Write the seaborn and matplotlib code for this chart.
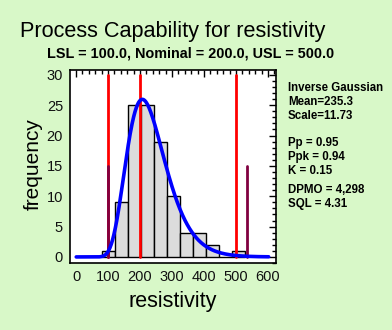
import numpy as np
import pandas as pd
import matplotlib
matplotlib.use("Agg")
import matplotlib.pyplot as plt
import seaborn as sns
from matplotlib.ticker import MultipleLocator

# ---- data ----
bin_start = 81.25
bin_width = 40.625
counts = [1, 9, 25, 25, 19, 10, 4, 4, 2, 0, 1]
spec_names = ["LSL", "Nominal", "USL"]
spec_values = [100.0, 200.0, 500.0]
sigma_limits = [101.0, 533.0]
sigma_height = 15
ig_mean = 235.3
ig_scale = 11.73
n_obs = sum(counts)
stats_lines = ["Inverse Gaussian", "Mean=235.3", "Scale=11.73",
               "Pp = 0.95", "Ppk = 0.94", "K = 0.15",
               "DPMO = 4,298", "SQL = 4.31"]
x_ticks = [0, 100, 200, 300, 400, 500, 600]
y_ticks = [0, 5, 10, 15, 20, 25, 30]

sns.set_theme(style="white")
plt.rcParams['font.family'] = ['Liberation Sans', 'DejaVu Sans']

W, H = 392, 330
bg = '#d8f8c8'
fig = plt.figure(figsize=(W / 100, H / 100), dpi=100, facecolor=bg)
ax = fig.add_axes([70 / W, 1 - 263 / H, 206 / W, 193 / H])
ax.set_facecolor('white')

edges = [float(bin_start + bin_width * i) for i in range(len(counts) + 1)]
centers = [(edges[i] + edges[i + 1]) / 2 for i in range(len(counts))]
df = pd.DataFrame({"x": centers, "w": counts})
sns.histplot(data=df, x="x", weights="w", bins=edges, ax=ax,
             color='#dcdcdc', edgecolor='black', linewidth=1.0, alpha=1.0)

# spec lines
for v in spec_values:
    ax.plot([v, v], [0, 30], color='#ff0000', lw=2.0, zorder=3)
for v in sigma_limits:
    ax.plot([v, v], [0, sigma_height], color='#800040', lw=2.0, zorder=3)

# fitted inverse gaussian curve
lam = ig_mean * ig_scale
xs = np.linspace(0.5, 602, 600)
pdf = np.sqrt(lam / (2 * np.pi * xs ** 3)) * np.exp(-lam * (xs - ig_mean) ** 2 / (2 * ig_mean ** 2 * xs))
sns.lineplot(x=xs, y=pdf * n_obs * bin_width, ax=ax, color='#0000ff', lw=2.6, zorder=4)

ax.set_xlim(-19, 625)
ax.set_ylim(-1, 30.8)
ax.set_xticks(x_ticks)
ax.set_yticks(y_ticks)
ax.xaxis.set_minor_locator(MultipleLocator(20))
ax.yaxis.set_minor_locator(MultipleLocator(1))
ax.tick_params(which='both', direction='in', top=True, right=True, color='black',
               labelsize=10.5, labelcolor='#111111', pad=5)
ax.tick_params(which='major', length=5, width=1)
ax.tick_params(which='minor', length=3, width=1)
for s in ax.spines.values():
    s.set_color('black')
    s.set_linewidth(1.2)
ax.set_xlabel("")
ax.set_ylabel("")

fig.text(173 / W, 1 - 32 / H, "Process Capability for resistivity", ha='center', va='center',
         fontsize=15.6, color='black')
fig.text(191 / W, 1 - 54 / H, "LSL = 100.0, Nominal = 200.0, USL = 500.0", ha='center', va='center',
         fontsize=10.4, fontweight='bold', color='black')
fig.text(173 / W, 1 - 302 / H, "resistivity", ha='center', va='center', fontsize=15.5, color='black')
fig.text(33 / W, 1 - 164 / H, "frequency", ha='center', va='center', fontsize=15,
         rotation=90, color='black')

ys = [88, 102, 116, 143, 157, 171, 190, 204]
for t, y in zip(stats_lines, ys):
    fig.text(288 / W, 1 - y / H, t, ha='left', va='center', fontsize=8.3, fontweight='bold',
             color='black')

fig.savefig("out.png", dpi=100, facecolor=bg)
